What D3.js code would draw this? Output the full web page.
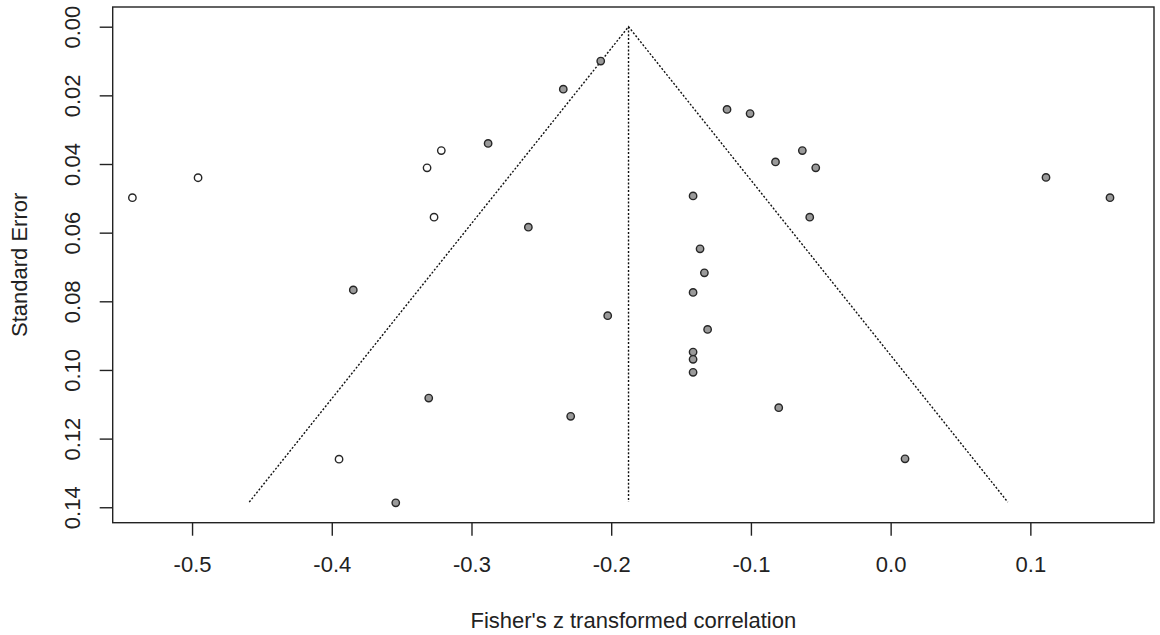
<!DOCTYPE html>
<html>
<head>
<meta charset="utf-8">
<script src="https://cdn.jsdelivr.net/npm/d3@7"></script>
<style>
  body { margin: 0; background: #fff; }
  text { font-family: "Liberation Sans", Arial, sans-serif; fill: #222; }
</style>
</head>
<body>
<div id="chart"></div>
<script>
// observed studies (Fisher's z, standard error)
const studyZ  = [-0.2075, -0.2343, -0.2881, -0.2593, -0.1171, -0.1006, -0.0824, -0.1414,
                 -0.1364, -0.1333, -0.1414, -0.2025, -0.1310, -0.1414, -0.1414, -0.1414,
                 -0.3306, -0.2290, -0.3542, -0.3846, -0.0632, -0.0536, -0.0579, 0.1112,
                 0.1570, -0.0801, 0.0103];
const studySE = [0.0100, 0.0182, 0.0340, 0.0584, 0.0241, 0.0253, 0.0394, 0.0493,
                 0.0647, 0.0717, 0.0774, 0.0842, 0.0882, 0.0948, 0.0969, 0.1007,
                 0.1082, 0.1135, 0.1387, 0.0767, 0.0361, 0.0411, 0.0555, 0.0439,
                 0.0498, 0.1110, 0.1259];
// imputed studies (trim and fill)
const filledZ  = [-0.3216, -0.3318, -0.3268, -0.3948, -0.5427, -0.4957];
const filledSE = [0.0361, 0.0411, 0.0555, 0.1260, 0.0498, 0.0440];

const pooled = -0.1876;   // adjusted estimate
const seMax = 0.1385;     // bottom of funnel
const xLim = [-0.5568, 0.1885];
const yLim = [-0.00574, 0.1445];
const xTicks = [-0.5, -0.4, -0.3, -0.2, -0.1, 0.0, 0.1];
const yTicks = [0.00, 0.02, 0.04, 0.06, 0.08, 0.10, 0.12, 0.14];

const W = 1160, H = 635;
const margin = {top: 7, right: 6, bottom: 112.3, left: 112.7};

const svg = d3.select("#chart").append("svg")
  .attr("width", W).attr("height", H);

const x = d3.scaleLinear().domain(xLim).range([margin.left, W - margin.right]);
const y = d3.scaleLinear().domain(yLim).range([margin.top, H - margin.bottom]);

// axes
const xAxis = svg.append("g")
  .attr("transform", `translate(0,${H - margin.bottom})`)
  .call(d3.axisBottom(x).tickValues(xTicks).tickSize(13).tickPadding(21)
    .tickFormat(d3.format(".1f")));
xAxis.select(".domain").remove();
xAxis.selectAll("line").attr("stroke", "#222").attr("stroke-width", 1.4);
xAxis.selectAll("text").attr("font-size", "22px").attr("fill", "#222")
  .attr("dy", "0.71em")
  .text(d => d3.format(".1f")(d).replace("−", "-"));

const yAxis = svg.append("g")
  .attr("transform", `translate(${margin.left},0)`)
  .call(d3.axisLeft(y).tickValues(yTicks).tickSize(13).tickFormat(d3.format(".2f")));
yAxis.select(".domain").remove();
yAxis.selectAll("line").attr("stroke", "#222").attr("stroke-width", 1.4);
yAxis.selectAll("text").remove();
yAxis.selectAll(".tick").append("text")
  .attr("transform", "translate(-33,0) rotate(-90)")
  .attr("text-anchor", "middle")
  .attr("font-size", "22px")
  .attr("fill", "#222")
  .text(d => d3.format(".2f")(d));

// funnel
const funnel = [[pooled - 1.96 * seMax, seMax], [pooled, 0], [pooled + 1.96 * seMax, seMax]];
svg.append("path")
  .attr("d", d3.line().x(d => x(d[0])).y(d => y(d[1]))(funnel))
  .attr("fill", "none").attr("stroke", "#111").attr("stroke-width", 1.4)
  .attr("stroke-dasharray", "2,1.8");
svg.append("line")
  .attr("x1", x(pooled)).attr("x2", x(pooled))
  .attr("y1", y(0)).attr("y2", y(seMax))
  .attr("stroke", "#111").attr("stroke-width", 1.4)
  .attr("stroke-dasharray", "2,1.8");

// points
svg.append("g").selectAll("circle")
  .data(d3.zip(studyZ, studySE))
  .join("circle")
  .attr("cx", d => x(d[0])).attr("cy", d => y(d[1]))
  .attr("r", 3.7)
  .attr("fill", "#9a9a9a").attr("stroke", "#262626").attr("stroke-width", 1.4);

svg.append("g").selectAll("circle")
  .data(d3.zip(filledZ, filledSE))
  .join("circle")
  .attr("cx", d => x(d[0])).attr("cy", d => y(d[1]))
  .attr("r", 3.7)
  .attr("fill", "#fff").attr("stroke", "#262626").attr("stroke-width", 1.4);

// box
svg.append("rect")
  .attr("x", margin.left).attr("y", margin.top)
  .attr("width", W - margin.right - margin.left)
  .attr("height", H - margin.bottom - margin.top)
  .attr("fill", "none").attr("stroke", "#222").attr("stroke-width", 1.4);

// titles
svg.append("text")
  .attr("x", (margin.left + W - margin.right) / 2).attr("y", 628)
  .attr("text-anchor", "middle").attr("font-size", "22px")
  .text("Fisher's z transformed correlation");

svg.append("text")
  .attr("transform", `translate(27,${(margin.top + H - margin.bottom) / 2}) rotate(-90)`)
  .attr("text-anchor", "middle").attr("font-size", "22px")
  .text("Standard Error");
</script>
</body>
</html>
